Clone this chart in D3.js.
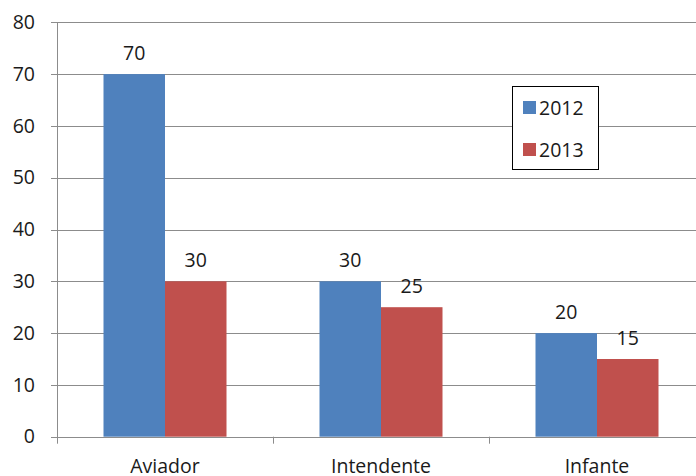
<!DOCTYPE html>
<html>
<head>
<meta charset="utf-8">
<script src="https://cdn.jsdelivr.net/npm/d3@7"></script>
<style>
  html, body { margin: 0; padding: 0; background: #fff; }
  svg text { font-family: "Open Sans", "Noto Sans", sans-serif; fill: #1a1a1a; }
</style>
</head>
<body>
<svg id="chart" width="696" height="476"></svg>
<script>
// Data
const categories = ["Aviador", "Intendente", "Infante"];
const seriesNames = ["2012", "2013"];
const values2012 = [70, 30, 20];
const values2013 = [30, 25, 15];
const yTicks = [0, 10, 20, 30, 40, 50, 60, 70, 80];
const seriesColors = ["#4f81bd", "#c0504d"];

const seriesValues = [values2012, values2013];

const svg = d3.select("#chart");
const fontSize = 19.5;

// Plot area
const plotLeft = 57, plotRight = 705, plotTop = 22.3, plotBottom = 436.7;

const x = d3.scaleBand().domain(categories).range([plotLeft, plotRight]).padding(0);
const groupWidth = 123;
const xs = d3.scaleBand().domain(seriesNames)
  .range([(x.bandwidth() - groupWidth) / 2, (x.bandwidth() + groupWidth) / 2]).padding(0);
const y = d3.scaleLinear().domain([0, 80]).range([plotBottom, plotTop]);

// Horizontal gridlines with left tick marks
const gridColor = "#8c8c8c";
svg.append("g").selectAll("line").data(yTicks).join("line")
  .attr("x1", plotLeft - 6).attr("x2", plotRight)
  .attr("y1", d => Math.round(y(d)) + 0.5).attr("y2", d => Math.round(y(d)) + 0.5)
  .attr("stroke", gridColor).attr("stroke-width", 1);

// Y axis via d3.axisLeft (labels only; lines drawn above)
const yAxis = svg.append("g").attr("transform", `translate(${plotLeft},0)`)
  .call(d3.axisLeft(y).tickValues(yTicks).tickSize(0).tickPadding(22));
yAxis.select(".domain").remove();
yAxis.selectAll("text").attr("font-size", fontSize).attr("font-family", null).attr("fill", "#1a1a1a");

// Vertical axis line
svg.append("line")
  .attr("x1", plotLeft + 0.5).attr("x2", plotLeft + 0.5)
  .attr("y1", plotTop).attr("y2", plotBottom + 7)
  .attr("stroke", gridColor);

// Category boundary ticks below the baseline
const boundaries = categories.slice(1).map(c => x(c));
svg.append("g").selectAll("line").data(boundaries).join("line")
  .attr("x1", d => Math.round(d) + 0.5).attr("x2", d => Math.round(d) + 0.5)
  .attr("y1", plotBottom).attr("y2", plotBottom + 7)
  .attr("stroke", gridColor);

// Bars
const groups = svg.append("g").selectAll("g").data(categories).join("g")
  .attr("transform", c => `translate(${x(c)},0)`);

seriesNames.forEach((s, si) => {
  groups.append("rect")
    .attr("x", xs(s))
    .attr("width", xs.bandwidth())
    .attr("y", (c, i) => y(seriesValues[si][i]))
    .attr("height", (c, i) => y(0) - y(seriesValues[si][i]))
    .attr("fill", seriesColors[si]);

  groups.append("text")
    .attr("x", xs(s) + xs.bandwidth() / 2)
    .attr("y", (c, i) => y(seriesValues[si][i]) - 14.5)
    .attr("text-anchor", "middle")
    .attr("font-size", fontSize)
    .text((c, i) => seriesValues[si][i]);
});

// Category labels
svg.append("g").selectAll("text").data(categories).join("text")
  .attr("x", c => x(c) + x.bandwidth() / 2)
  .attr("y", 473)
  .attr("text-anchor", "middle")
  .attr("font-size", fontSize)
  .text(c => c);

// Legend
const legend = svg.append("g");
legend.append("rect")
  .attr("x", 512.5).attr("y", 86.5).attr("width", 86).attr("height", 83)
  .attr("fill", "#fff").attr("stroke", "#000").attr("stroke-width", 1);
const legendY = [101, 143];
seriesNames.forEach((s, i) => {
  legend.append("rect")
    .attr("x", 523).attr("y", legendY[i]).attr("width", 13).attr("height", 13)
    .attr("fill", seriesColors[i]);
  legend.append("text")
    .attr("x", 539).attr("y", legendY[i] + 14)
    .attr("font-size", fontSize)
    .text(s);
});
</script>
</body>
</html>
